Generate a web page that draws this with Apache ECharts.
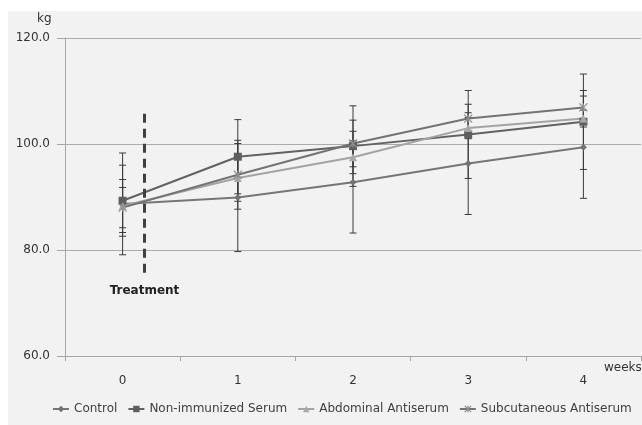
<!DOCTYPE html>
<html><head><meta charset="utf-8">
<script src="https://cdn.jsdelivr.net/npm/echarts@6/dist/echarts.min.js"></script>
<style>html,body{margin:0;padding:0;background:#fff}#c{width:642px;height:425px}</style>
</head><body><div id="c"></div>
<script>
const weeks = ['0', '1', '2', '3', '4'];
const seriesNames = ['Control', 'Non-immunized Serum', 'Abdominal Antiserum', 'Subcutaneous Antiserum'];
const control = [88.7, 89.9, 92.8, 96.3, 99.4];
const nonImmunized = [89.3, 97.6, 99.6, 101.8, 104.2];
const abdominal = [88.3, 93.6, 97.5, 103.0, 104.8];
const subcutaneous = [88.0, 94.2, 100.1, 104.8, 106.9];
const controlSD = [9.6, 10.2, 9.6, 9.6, 9.65];
const nonImmunizedSD = [6.7, 7.0, 7.6, 8.3, 9.0];
const abdominalSD = [5.0, 4.4, 3.1, 2.0, 1.6];
const subcutaneousSD = [3.8, 6.5, 4.4, 2.7, 3.2];
const yMin = 60, yMax = 120, yStep = 20;
const treatmentWeek = 0.19;
const treatmentRange = [75.7, 105.8];

const means = [control, nonImmunized, abdominal, subcutaneous];
const sds = [controlSD, nonImmunizedSD, abdominalSD, subcutaneousSD];
const lineColors = ['#767676', '#626262', '#a3a3a3', '#737373'];
const markColors = ['#727272', '#5e5e5e', '#a8a8a8', '#8e8e8e'];
const symbols = ['diamond', 'rect', 'triangle', 'path://M0,0L10,10M10,0L0,10M5,0L5,10'];
const symbolSizes = [7, 8, 8, 8];

function errRender(params, api) {
  const x = api.value(0), lo = api.value(1), hi = api.value(2);
  const p1 = api.coord([x, lo]), p2 = api.coord([x, hi]);
  const w = 3.5;
  const style = { stroke: '#3a3a3a', lineWidth: 1 };
  return { type: 'group', children: [
    { type: 'line', shape: { x1: p1[0], y1: p1[1], x2: p2[0], y2: p2[1] }, style: style },
    { type: 'line', shape: { x1: p1[0] - w, y1: p1[1], x2: p1[0] + w, y2: p1[1] }, style: style },
    { type: 'line', shape: { x1: p2[0] - w, y1: p2[1], x2: p2[0] + w, y2: p2[1] }, style: style }
  ]};
}

const series = [];
means.forEach(function (m, i) {
  series.push({
    name: seriesNames[i] + ' SD', type: 'custom', renderItem: errRender, z: 1,
    data: m.map(function (v, k) { return [k, v - sds[i][k], v + sds[i][k]]; }),
    silent: true
  });
});
means.forEach(function (m, i) {
  series.push({
    name: seriesNames[i], type: 'line', data: m, z: 3,
    symbol: symbols[i], symbolSize: symbolSizes[i], showAllSymbol: true,
    lineStyle: { color: lineColors[i], width: 2 },
    itemStyle: { color: i === 3 ? 'rgba(0,0,0,0)' : markColors[i], borderColor: markColors[i], borderWidth: i === 3 ? 1.2 : 0 },
    emphasis: { disabled: true }
  });
});
series.push({
  name: 'treatment', type: 'line', xAxisIndex: 1, data: [], symbol: 'none',
  markLine: {
    symbol: 'none', silent: true,
    lineStyle: { color: '#404040', width: 3, type: [9, 6] },
    label: { show: true, position: 'start', formatter: 'Treatment', distance: 12,
      fontFamily: 'DejaVu Sans', fontWeight: 'bold', fontSize: 12, color: '#222' },
    data: [[{ coord: [treatmentWeek, treatmentRange[0]] }, { coord: [treatmentWeek, treatmentRange[1]] }]]
  }
});

const legendData = seriesNames.map(function (n, i) {
  return i === 3
    ? { name: n, itemStyle: { color: 'rgba(0,0,0,0)', borderColor: markColors[i], borderWidth: 1.2 } }
    : { name: n };
});

const chart = echarts.init(document.getElementById('c'));
chart.setOption({
  backgroundColor: '#ffffff',
  animation: false,
  textStyle: { fontFamily: 'DejaVu Sans' },
  graphic: [
    { type: 'rect', z: -10, shape: { x: 8, y: 11, width: 634, height: 414 }, style: { fill: '#f2f2f2' } },
    { type: 'text', left: 37, top: 13, style: { text: 'kg', fontSize: 12, fill: '#333', fontFamily: 'DejaVu Sans' } },
    { type: 'text', left: 604, top: 362, style: { text: 'weeks', fontSize: 12, fill: '#333', fontFamily: 'DejaVu Sans' } }
  ],
  grid: { left: 65, right: 1, top: 38, bottom: 69 },
  legend: {
    data: legendData, bottom: 10, left: 52, width: 590, padding: 0, itemWidth: 16, itemHeight: 8, itemGap: 10,
    textStyle: { fontSize: 12, color: '#404040', fontFamily: 'DejaVu Sans' }
  },
  xAxis: [{
    type: 'category', data: weeks, boundaryGap: true,
    axisLine: { lineStyle: { color: '#a6a6a6' } },
    axisTick: { show: true, length: 5, lineStyle: { color: '#a6a6a6' } },
    axisLabel: { margin: 19, fontSize: 12, color: '#333' }
  }, {
    type: 'value', min: -0.5, max: 4.5, show: false
  }],
  yAxis: {
    type: 'value', min: yMin, max: yMax, interval: yStep,
    axisLine: { show: true, onZero: false, lineStyle: { color: '#a6a6a6' } },
    axisTick: { show: true, length: 8, lineStyle: { color: '#a6a6a6' } },
    axisLabel: { margin: 15, fontSize: 12, color: '#333', formatter: function (v) { return v.toFixed(1); } },
    splitLine: { lineStyle: { color: '#ababab' } }
  },
  series: series
});
</script>
</body></html>
